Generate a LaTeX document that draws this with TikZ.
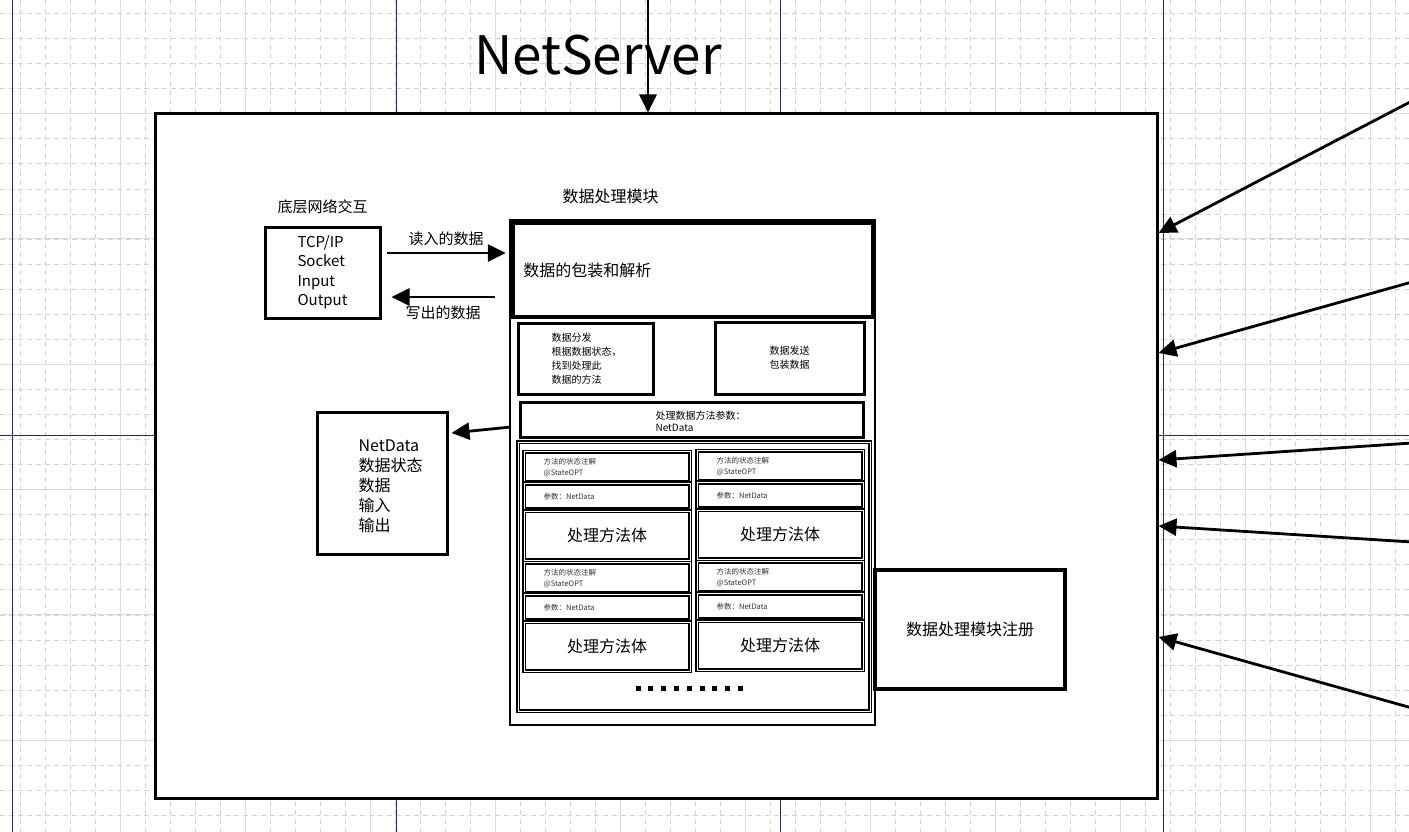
\documentclass[tikz,border=0pt]{standalone}
\usepackage{fontspec}
\setmainfont{Noto Sans CJK SC}
\usetikzlibrary{arrows.meta,positioning}

\newcommand{\fsz}[2]{\fontsize{#1}{#2}\selectfont}
\definecolor{gridmajor}{RGB}{212,224,224}
\definecolor{gridminor}{RGB}{210,210,210}
\definecolor{guideblue}{RGB}{36,36,150}

\tikzset{
  box/.style={draw, line width=3pt, fill=white, inner sep=0pt, align=left},
  dbox/.style={draw, line width=1.7pt, double=white, double distance=1pt, inner sep=0pt},
  arr/.style={line width=2.8pt, -{Triangle[length=18pt,width=17pt]}},
  lbl/.style={font=\fsz{15}{18}},
  small/.style={font=\fsz{10}{14}, align=left},
  tiny/.style={font=\fsz{7.5}{11}, align=left, text=black!80},
}

\begin{document}
\begin{tikzpicture}[x=1pt,y=-1pt]
\useasboundingbox (0,0) rectangle (1409,832);
\fill[white] (0,0) rectangle (1409,832);

\foreach \x in {20,45,...,1409}
  \draw[gridminor, line width=0.8pt, dash pattern=on 5pt off 4pt] (\x,0) -- (\x,832);
\foreach \y in {13.5,38.56,...,832}
  \draw[gridminor, line width=0.8pt, dash pattern=on 5pt off 4pt] (0,\y) -- (1409,\y);
\foreach \x in {120,245,...,1409}
  \draw[gridmajor, line width=1pt] (\x,0) -- (\x,832);
\foreach \y in {113.5,238.8,...,832}
  \draw[gridmajor, line width=1pt] (0,\y) -- (1409,\y);
\foreach \x in {12,396,780,1163}
  \draw[guideblue, line width=0.9pt] (\x,0) -- (\x,832);
\draw[guideblue, line width=0.9pt] (0,435) -- (1409,435);

\node[font=\fsz{53}{58}] (title) at (598,55) {NetServer};
\node[box, minimum width=1002, minimum height=684] (server) at (656,456) {};

\coordinate (topsrc) at (648,-3);
\draw[arr] (topsrc) -- ([xshift=-8]server.north);

\foreach \sy/\ty [count=\i] in {101/223, 282/103, 443/-4, 542/-70, 708/-181} {
  \coordinate (src\i) at (1412,\sy);
  \draw[arr] (src\i) -- ([yshift=\ty]server.east);
}

% network side
\node[box, minimum width=115, minimum height=91, font=\fsz{15}{19.5}] (tcp) at (322.5,272.5) {TCP/IP\\Socket\\Input\\Output};
\node[lbl, above=8pt of tcp] (tcplbl) {底层网络交互};

% data processing module
\node[box, line width=2pt, minimum width=365, minimum height=505] (module) at (692.5,472.5) {};
\node[lbl, font=\fsz{16}{19}, above=12pt of module.north, xshift=-82pt] (modlbl) {数据处理模块};
\node[box, line width=4.5pt, minimum width=360, minimum height=94] (pack) at (693,270) {};
\node[font=\fsz{16}{19}, anchor=west] (packtxt) at ([xshift=9]pack.west) {数据的包装和解析};

\node[box, minimum width=135, minimum height=71] (dispatch) at (585.5,358.5) {};
\node[small, anchor=west] (disptxt) at (548,359) {数据分发\\根据数据状态，\\找到处理此\\数据的方法};
\node[box, small, align=center, minimum width=149, minimum height=72] (send) at (789.5,358) {数据发送\\包装数据};
\node[box, minimum width=343, minimum height=35] (params) at (691.5,419.5) {};
\node[small, font=\fsz{10}{12}, anchor=west] (partxt) at (652,421) {处理数据方法参数：\\NetData};

\node[dbox, minimum width=352, minimum height=269] (frame) at (694,576.5) {};
\foreach \mx/\my [count=\i] in {607/451, 780/450, 607/562, 780/561} {
  \node[dbox, minimum width=166, minimum height=30, anchor=north] (ann\i) at (\mx,\my) {};
  \node[dbox, minimum width=166, minimum height=26, anchor=north] (par\i) at (ann\i.south) {};
  \node[dbox, minimum width=166, minimum height=49, anchor=north, font=\fsz{16}{19}] (body\i) at (par\i.south) {处理方法体};
  \node[tiny, anchor=north west] (anntxt\i) at ([xshift=17,yshift=-4]ann\i.north west) {方法的状态注解\\@StateOPT};
  \node[tiny, anchor=west] (partxt\i) at ([xshift=17]par\i.west) {参数：NetData};
}
\foreach \k in {0,...,8}
  \fill (635.5+12.8*\k,685.5) rectangle +(5,5);

\node[box, line width=3.5pt, minimum width=190, minimum height=119, font=\fsz{16}{19}] (register) at (970,629.5) {数据处理模块注册};

\node[box, minimum width=130, minimum height=142] (netdata) at (382,483) {};
\node[font=\fsz{16}{20}, anchor=west, align=left] (ndtxt) at (355,486) {NetData\\数据状态\\数据\\输入\\输出};

\draw[arr] ([xshift=5,yshift=19.5]tcp.east) -- node[lbl, midway, above=2pt] {读入的数据} ([xshift=-5,yshift=17]pack.west);
\draw[arr] ([xshift=-16,yshift=-27]pack.west) -- node[lbl, midway, below=4pt] {写出的数据} ([xshift=10,yshift=-24.5]tcp.east);
\draw[arr] ([xshift=2,yshift=45.5]module.west) -- ([xshift=3,yshift=50]netdata.east);

\end{tikzpicture}
\end{document}
